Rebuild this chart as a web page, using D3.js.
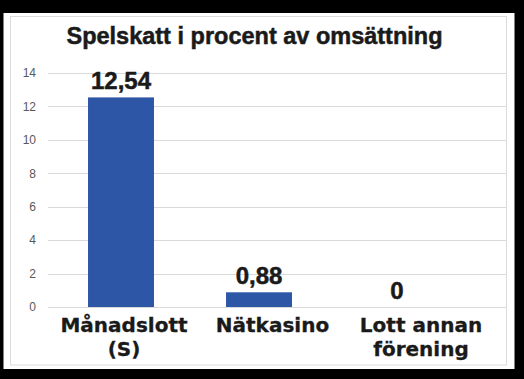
<!DOCTYPE html>
<html>
<head>
<meta charset="utf-8">
<script src="https://cdn.jsdelivr.net/npm/d3@7"></script>
<style>
  html, body { margin: 0; padding: 0; background: #000; }
  svg { display: block; }
</style>
</head>
<body>
<svg id="chart" width="524" height="379"></svg>
<script>
const title = "Spelskatt i procent av omsättning";
const categories = ["Månadslott (S)", "Nätkasino", "Lott annan förening"];
const categoryLines = [["Månadslott", "(S)"], ["Nätkasino"], ["Lott annan", "förening"]];
const values = [12.54, 0.88, 0];
const yTicks = [0, 2, 4, 6, 8, 10, 12, 14];

const svg = d3.select("#chart");
const W = 524, H = 379;

svg.append("rect").attr("x", 0).attr("y", 0).attr("width", W).attr("height", H).attr("fill", "#000");
svg.append("rect").attr("x", 3.5).attr("y", 13).attr("width", 511).attr("height", 356).attr("fill", "#fff");
svg.append("rect").attr("x", 10.5).attr("y", 16.5).attr("width", 496).attr("height", 348.5)
  .attr("fill", "none").attr("stroke", "#dcdcdc").attr("stroke-width", 1);

const swe = d3.formatLocale({decimal: ",", thousands: "\u00a0", grouping: [3], currency: ["", " kr"]});
const fmt = swe.format(".2~f");

const y = d3.scaleLinear().domain([0, 14]).range([307, 73]);
const x = d3.scaleBand().domain(categories).range([52, 466]).paddingInner(0.522).paddingOuter(0.261);
const xl = d3.scalePoint().domain(categories).range([124, 421]);

// title
svg.append("text")
  .attr("x", 254.5).attr("y", 44.3)
  .attr("text-anchor", "middle")
  .attr("font-family", "Liberation Sans, Arial, sans-serif")
  .attr("font-weight", "bold")
  .attr("font-size", 23.5)
  .attr("fill", "#1a1a1a")
  .attr("stroke", "#1a1a1a").attr("stroke-width", 0.5)
  .text(title);

// gridlines + y axis
const yAxis = d3.axisLeft(y).tickValues(yTicks).tickSize(-(506 - 48)).tickPadding(12).tickFormat(d3.format("d"));
const gy = svg.append("g").attr("transform", "translate(48,0)").call(yAxis);
gy.select(".domain").remove();
gy.selectAll(".tick line").attr("stroke", "#d9d9d9").attr("stroke-width", 1).attr("shape-rendering", "crispEdges");
gy.selectAll(".tick text")
  .attr("font-family", "Liberation Sans, Arial, sans-serif")
  .attr("font-size", 12)
  .attr("fill", "#595959");

// bars
svg.append("g").selectAll("rect").data(values).join("rect")
  .attr("x", (d, i) => x(categories[i]))
  .attr("width", x.bandwidth())
  .attr("y", d => y(d))
  .attr("height", d => y(0) - y(d))
  .attr("fill", "#2d56a6");

// value labels
svg.append("g").selectAll("text").data(values).join("text")
  .attr("x", (d, i) => x(categories[i]) + x.bandwidth() / 2)
  .attr("y", d => y(d) - 8)
  .attr("text-anchor", "middle")
  .attr("font-family", "Liberation Sans, Arial, sans-serif")
  .attr("font-weight", "bold")
  .attr("font-size", 24)
  .attr("fill", "#1a1a1a")
  .attr("stroke", "#1a1a1a").attr("stroke-width", 0.5)
  .text(d => fmt(d));

// category labels
const cl = svg.append("g").selectAll("text").data(categories).join("text")
  .attr("x", d => xl(d))
  .attr("y", 331.5)
  .attr("text-anchor", "middle")
  .attr("font-family", "DejaVu Sans, sans-serif")
  .attr("font-weight", "bold")
  .attr("font-size", 20)
  .attr("fill", "#1a1a1a")
  .attr("stroke", "#1a1a1a").attr("stroke-width", 0.3);
cl.each(function(d, i) {
  const t = d3.select(this);
  categoryLines[i].forEach((line, j) => {
    t.append("tspan").attr("x", xl(d)).attr("dy", j === 0 ? 0 : 24).text(line);
  });
});
</script>
</body>
</html>
